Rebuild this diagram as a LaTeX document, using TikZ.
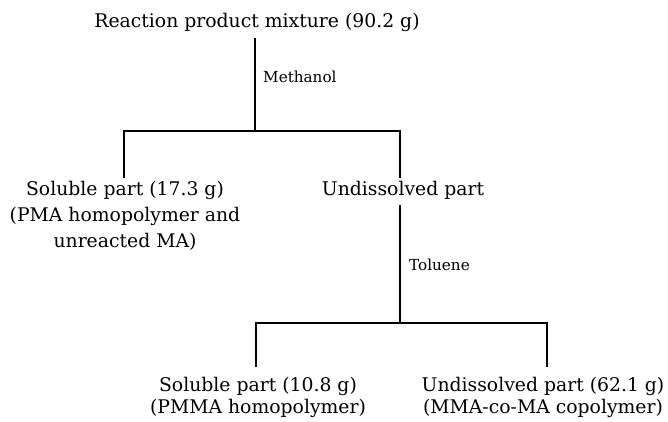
\documentclass[tikz,border=0pt]{standalone}
\usepackage{fontspec}
\setmainfont{DejaVu Serif}
\begin{document}
\begin{tikzpicture}[x=1pt,y=-1pt,
  txt/.style={inner sep=0pt,anchor=base,font=\fontsize{18.8}{22}\selectfont},
  lbl/.style={inner sep=0pt,anchor=base west,font=\fontsize{15.2}{18}\selectfont},
  ln/.style={line width=1.1pt}]
\useasboundingbox (0,0) rectangle (668,421);
% texts
\node[txt] (top) at (257,27) {Reaction product mixture (90.2 g)};
\node[lbl] (meth) at (263,82) {Methanol};
\node[txt] (sol1a) at (125,195) {Soluble part (17.3 g)};
\node[txt] (sol1b) at (125,221) {(PMA homopolymer and};
\node[txt] (sol1c) at (125,247) {unreacted MA)};
\node[txt] (und1) at (403,195) {Undissolved part};
\node[lbl] (tol) at (409,270) {Toluene};
\node[txt] (sol2a) at (258,391) {Soluble part (10.8 g)};
\node[txt] (sol2b) at (258,413) {(PMMA homopolymer)};
\node[txt] (und2a) at (543,391) {Undissolved part (62.1 g)};
\node[txt] (und2b) at (543,413) {(MMA-co-MA copolymer)};
% junction coordinates
\coordinate (t0) at (255,38);
\coordinate (j1) at (255,131);
\coordinate (l1) at (124,131);
\coordinate (r1) at (400,131);
\coordinate (l1e) at (124,178);
\coordinate (r1e) at (400,178);
\coordinate (u0) at (400,205);
\coordinate (j2) at (400,323);
\coordinate (l2) at (256,323);
\coordinate (r2) at (547,323);
\coordinate (l2e) at (256,367);
\coordinate (r2e) at (547,367);
% connectors
\draw[ln] (t0) -- (j1);
\draw[ln] (l1e) -- (l1) -- (r1) -- (r1e);
\draw[ln] (u0) -- (j2);
\draw[ln] (l2e) -- (l2) -- (r2) -- (r2e);
\end{tikzpicture}
\end{document}
